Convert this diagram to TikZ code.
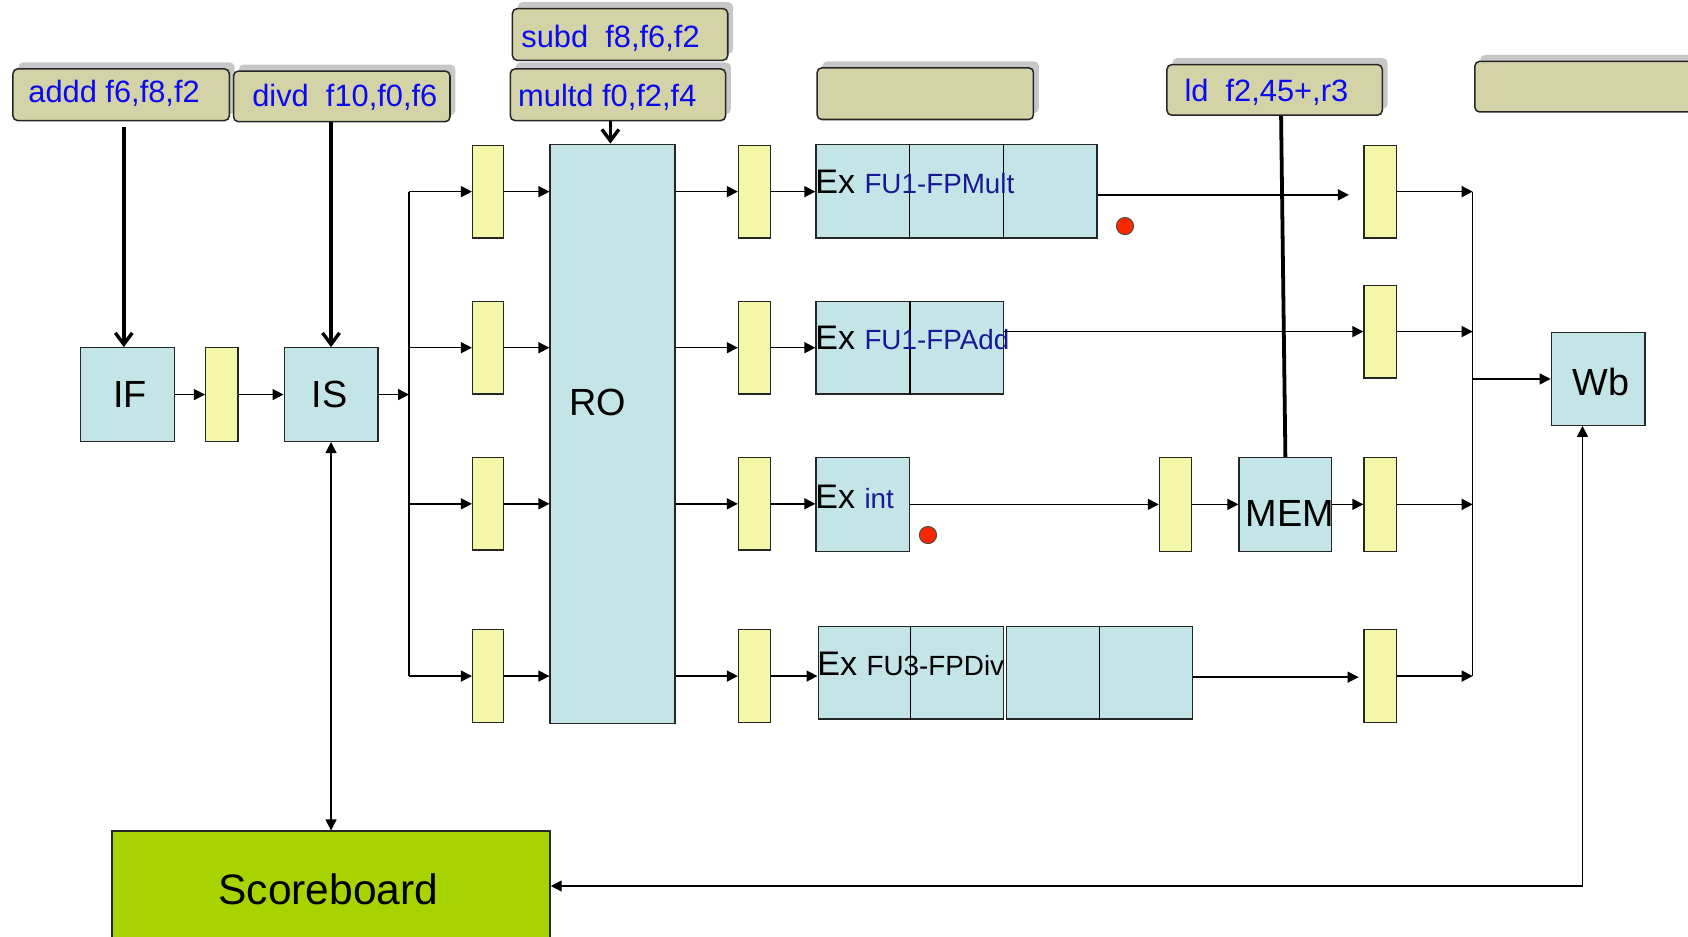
\documentclass[tikz,border=0pt]{standalone}
\usepackage{fontspec}
\setmainfont{Liberation Sans}
\newcommand\fusize{\fontsize{14.7}{18}\selectfont}
\usetikzlibrary{arrows.meta,fit,shadows,calc}
\definecolor{cblue}{RGB}{196,229,232}
\definecolor{cyel}{RGB}{244,247,168}
\definecolor{ctan}{RGB}{212,211,168}
\definecolor{cgreen}{RGB}{168,211,0}
\definecolor{cinstr}{RGB}{10,10,240}
\definecolor{cfu}{RGB}{25,25,150}
\definecolor{cred}{RGB}{250,40,0}
\begin{document}
\begin{tikzpicture}[x=0.02cm,y=-0.02cm,
 blk/.style={draw=black!85, line width=0.7pt, fill=cblue, inner sep=0pt},
 latch/.style={draw=black!85, line width=0.7pt, fill=cyel, inner sep=0pt},
 instr/.style={draw=black!85, line width=0.8pt, fill=ctan, rounded corners=2.5pt, inner sep=0pt,
   general shadow={shadow xshift=0.1cm, shadow yshift=0.12cm, fill=black!22}},
 itext/.style={anchor=base west, text=cinstr, font=\fontsize{16.3}{20}\selectfont, inner sep=0pt},
 lbl/.style={font=\fontsize{20}{24}\selectfont, inner sep=0pt},
 extext/.style={anchor=base west, inner sep=0pt, font=\fontsize{18}{22}\selectfont},
 ln/.style={line width=0.75pt},
 arr/.style={line width=0.75pt, -{Triangle[length=5.8pt,width=5.8pt]}},
 darr/.style={line width=0.75pt, {Triangle[length=5.8pt,width=5.8pt]}-{Triangle[length=5.8pt,width=5.8pt]}},
 thk/.style={line width=1.8pt, -{Straight Barb[length=6pt,width=9pt]}},
 dot/.style={circle, draw=black!70, line width=0.5pt, fill=cred, minimum size=0.32cm, inner sep=0pt}
]
\useasboundingbox (0,0) rectangle (1568,870);
\clip (0,0) rectangle (1568,870);

% instruction boxes
\node[instr, fit={(12,64)(213,112)}] (addd) {};
\node[instr, fit={(217,66)(418,113)}] (divd) {};
\node[instr, fit={(476,8)(676,56)}] (subd) {};
\node[instr, fit={(474,64)(674,112)}] (multd) {};
\node[instr, fit={(759,63)(960,111)}] (empA) {};
\node[instr, fit={(1084,60)(1284,107)}] (ld) {};
\node[instr, fit={(1370,57)(1600,104)}] (empB) {};
\node[itext] (taddd) at (26,95) {addd f6,f8,f2};
\node[itext] (tdivd) at (234,99) {divd~~f10,f0,f6};
\node[itext] (tsubd) at (484,44) {subd~~f8,f6,f2};
\node[itext] (tmultd) at (481,99) {multd f0,f2,f4};
\node[itext] (tld) at (1100,94) {ld~~f2,45+,r3};

% front end
\node[blk, fit={(75,323)(162,410)}] (IF) {};
\node[lbl] (tIF) at (121,366) {IF};
\node[latch, fit={(191,323)(221,410)}] (L0) {};
\node[blk, fit={(264,323)(351,410)}] (IS) {};
\node[lbl] (tIS) at (306,366) {IS};

% latches before RO
\node[latch, fit={(439,135)(468,221)}] (LA1) {};
\node[latch, fit={(439,280)(468,366)}] (LA2) {};
\node[latch, fit={(439,425)(468,511)}] (LA3) {};
\node[latch, fit={(439,585)(468,671)}] (LA4) {};
\node[blk, fit={(511,134)(627,672)}] (RO) {};
\node[lbl] (tRO) at (555,374) {RO};
\node[latch, fit={(686,135)(716,221)}] (LB1) {};
\node[latch, fit={(686,280)(716,366)}] (LB2) {};
\node[latch, fit={(686,425)(716,511)}] (LB3) {};
\node[latch, fit={(686,585)(716,671)}] (LB4) {};

% execution units
\node[blk, fit={(758,134)(1019,221)}] (Mult) {};
\draw[line width=0.9pt] ($(Mult.north west)!1/3!(Mult.north east)$) -- ($(Mult.south west)!1/3!(Mult.south east)$);
\draw[line width=0.9pt] ($(Mult.north west)!2/3!(Mult.north east)$) -- ($(Mult.south west)!2/3!(Mult.south east)$);
\node[blk, fit={(758,280)(932,366)}] (Add) {};
\draw[line width=0.9pt] ($(Add.north west)!1/2!(Add.north east)$) -- ($(Add.south west)!1/2!(Add.south east)$);
\node[blk, fit={(758,425)(845,512)}] (Int) {};
\node[blk, fit={(760,582)(932,668)}] (DivA) {};
\draw[line width=0.7pt] ($(DivA.north west)!1/2!(DivA.north east)$) -- ($(DivA.south west)!1/2!(DivA.south east)$);
\node[blk, fit={(935,582)(1108,668)}] (DivB) {};
\draw[line width=0.7pt] ($(DivB.north west)!1/2!(DivB.north east)$) -- ($(DivB.south west)!1/2!(DivB.south east)$);

\node[extext] (tMult) at (757,180) {Ex\hspace{5pt}{\fusize\color{cfu}FU1-FPMult}};
\node[extext] (tAdd) at (757,325) {Ex\hspace{5pt}{\fusize\color{cfu}FU1-FPAdd}};
\node[extext] (tInt) at (757,472) {Ex\hspace{5pt}{\fusize\color{cfu}int}};
\node[extext] (tDiv) at (759,627) {Ex\hspace{5pt}{\fusize FU3-FPDiv}};

\node[dot] (d1) at (1045,210) {};
\node[dot] (d2) at (862,497) {};

% memory path
\node[latch, fit={(1077,425)(1107,512)}] (LM) {};
\node[blk, fit={(1151,425)(1237,512)}] (MEM) {};
\node[lbl] (tMEM) at (1198,477) {MEM};

% right latches and writeback
\node[latch, fit={(1267,135)(1297,221)}] (RL1) {};
\node[latch, fit={(1267,265)(1297,351)}] (RL2) {};
\node[latch, fit={(1267,425)(1297,512)}] (RL3) {};
\node[latch, fit={(1267,585)(1297,671)}] (RL4) {};
\node[blk, fit={(1441,309)(1528,395)}] (Wb) {};
\node[lbl] (tWb) at (1487,355) {Wb};

% scoreboard
\node[draw=black!85, line width=0.7pt, fill=cgreen, inner sep=0pt, fit={(104,772)(511,890)}] (SB) {};
\node[font=\fontsize{22.5}{27}\selectfont, inner sep=0pt] (tSB) at (305,826) {Scoreboard};

% buses
\coordinate (busLt) at (380,178);
\coordinate (busLb) at (380,628);
\draw[ln] (busLt) -- (busLb);
\coordinate (busRt) at (1368,178);
\coordinate (busRb) at (1368,628);
\draw[ln] (busRt) -- (busRb);

% connectors front
\draw[arr] (IF.east) -- (L0.west);
\draw[arr] (L0.east) -- (IS.west);
\draw[arr] (IS.east) -- (IS.east -| busLt);
\foreach \n in {LA1,LA2,LA3,LA4}{
  \draw[arr] (\n.west -| busLt) -- (\n.west);
  \draw[arr] (\n.east) -- (\n.east -| RO.west);
}
\foreach \n in {LB1,LB2,LB3,LB4}{
  \draw[arr] (\n.west -| RO.east) -- (\n.west);
}
\draw[arr] (LB1.east) -- (LB1.east -| Mult.west);
\draw[arr] (LB2.east) -- (LB2.east -| Add.west);
\draw[arr] (LB3.east) -- (LB3.east -| Int.west);
\draw[arr] (LB4.east) -- (LB4.east -| DivA.west);

% connectors back
\coordinate (m1) at (1253,181);
\draw[arr] (Mult.east |- m1) -- (m1);
\draw[arr] (Add.east |- RL2.west) -- (RL2.west);
\draw[arr] (Int.east) -- (LM.west);
\draw[arr] (LM.east) -- (MEM.west);
\draw[arr] (MEM.east) -- (RL3.west);
\coordinate (dv) at (1262,629);
\draw[arr] (DivB.east |- dv) -- (dv);
\foreach \n in {RL1,RL2,RL3,RL4}{
  \draw[arr] (\n.east) -- (\n.east -| busRt);
}
\draw[arr] (Wb.west -| busRt) -- (Wb.west);

% scoreboard links
\draw[darr] (IS.south) -- (IS.south |- SB.north);
\coordinate (sw) at (1470,823);
\draw[darr] (SB.east |- sw) -- (sw) -- (sw |- Wb.south);

% instruction arrows
\coordinate (at) at ($(addd.south)+(2.5,5)$);
\draw[thk] (at) -- (at |- IF.north);
\draw[thk] (IS.north |- divd.south) -- (IS.north);
\coordinate (mt) at ($(multd.south)+(-7,0)$);
\draw[thk] (mt) -- (mt |- RO.north);
\coordinate (ldb) at ($(ld.south)+(6,0)$);
\draw[line width=2pt] (ldb) -- (MEM.north);
\end{tikzpicture}
\end{document}
